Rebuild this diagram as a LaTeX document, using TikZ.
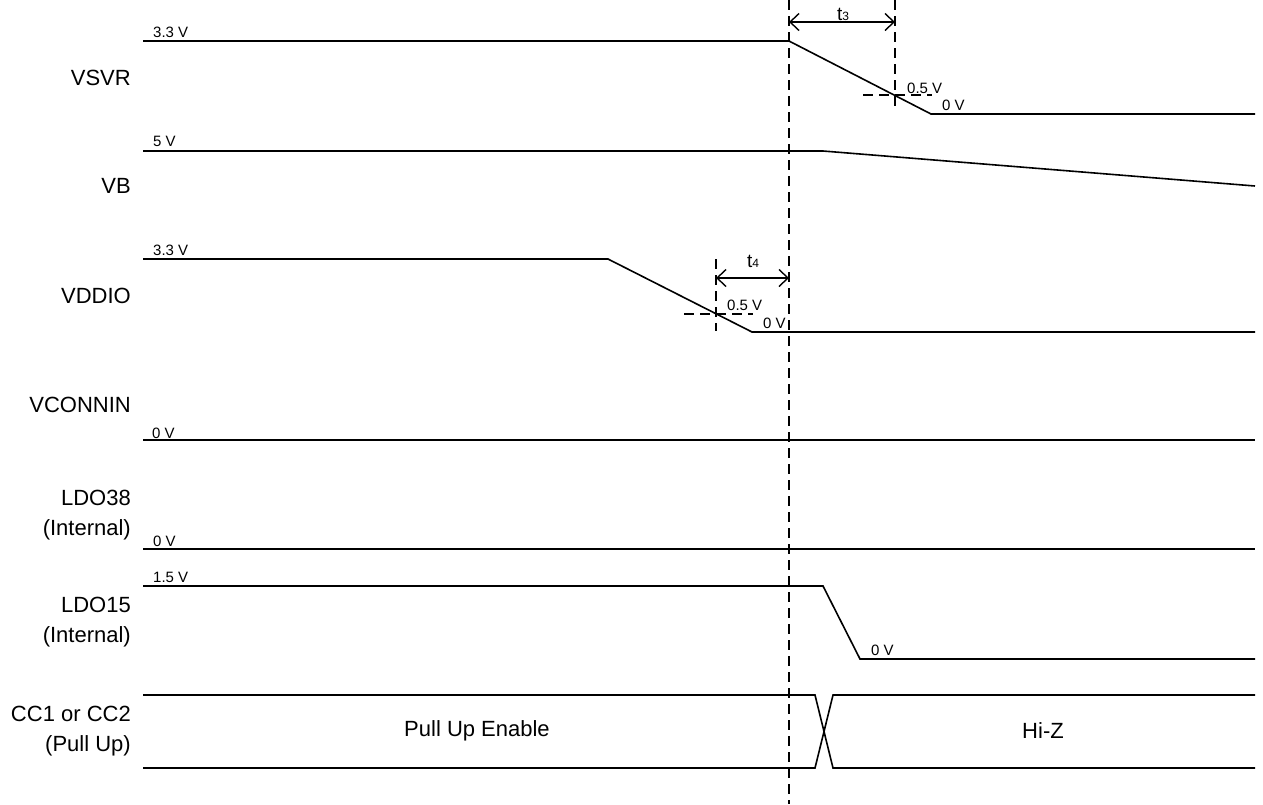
\documentclass[tikz,border=0pt]{standalone}
\usepackage{fontspec}
\setmainfont{Liberation Sans}
\usetikzlibrary{arrows.meta}
\usetikzlibrary{positioning}

\begin{document}
\begin{tikzpicture}[x=1pt,y=-1pt,
    sig/.style={line width=1.6pt,line join=miter},
    guide/.style={line width=1.4pt,dash pattern=on 10pt off 6pt},
    span/.style={line width=1.4pt,{Straight Barb[length=9pt,width=17pt]}-{Straight Barb[length=9pt,width=17pt]}},
    lbl/.style={anchor=east,align=right,inner sep=0pt,font=\fontsize{22}{30}\selectfont},
    volt/.style={anchor=base west,inner sep=0pt,font=\fontsize{15}{15}\selectfont},
    tname/.style={anchor=base,inner sep=0pt,font=\fontsize{19}{19}\selectfont}]
  \useasboundingbox (0,0) rectangle (1263,804);

  % signal names
  \node[lbl] (vsvr) at (131,78) {VSVR};
  \node[lbl] (vb) at (131,186) {VB};
  \node[lbl] (vddio) at (131,296) {VDDIO};
  \node[lbl] (vconn) at (131,405) {VCONNIN};
  \node[lbl] (ldo38) at (131,515) {LDO38\\(Internal)};
  \node[lbl] (ldo15) at (131,622) {LDO15\\(Internal)};
  \node[lbl] (cc) at (131,731) {CC1 or CC2\\(Pull Up)};

  % VSVR
  \coordinate (vs0) at (143,41);
  \coordinate (vs1) at (789,41);
  \coordinate (vs2) at (931,114);
  \coordinate (vs3) at (1255,114);
  \draw[sig] (vs0) -- (vs1) -- (vs2) -- (vs3);
  \node[volt] (vshi) at (153,37) {3.3 V};
  \node[volt] (vsmid) at (907,93) {0.5 V};
  \node[volt] (vslo) at (942,110) {0 V};

  % VB
  \coordinate (vb0) at (143,151);
  \coordinate (vb1) at (823,151);
  \coordinate (vb2) at (1255,186);
  \draw[sig] (vb0) -- (vb1) -- (vb2);
  \node[volt] (vbhi) at (153,146) {5 V};

  % VDDIO
  \coordinate (vd0) at (143,259);
  \coordinate (vd1) at (608,259);
  \coordinate (vd2) at (752,332);
  \coordinate (vd3) at (1255,332);
  \draw[sig] (vd0) -- (vd1) -- (vd2) -- (vd3);
  \node[volt] (vdhi) at (153,255) {3.3 V};
  \node[volt] (vdmid) at (727,310) {0.5 V};
  \node[volt] (vdlo) at (763,328) {0 V};

  % VCONNIN, LDO38
  \coordinate (vc0) at (143,440);
  \coordinate (vc1) at (1255,440);
  \draw[sig] (vc0) -- (vc1);
  \node[volt] (vclo) at (152,438) {0 V};
  \coordinate (l38a) at (143,549);
  \coordinate (l38b) at (1255,549);
  \draw[sig] (l38a) -- (l38b);
  \node[volt] (l38lo) at (153,546) {0 V};

  % LDO15
  \coordinate (l15a) at (143,586);
  \coordinate (l15b) at (823,586);
  \coordinate (l15c) at (860,659);
  \coordinate (l15d) at (1255,659);
  \draw[sig] (l15a) -- (l15b) -- (l15c) -- (l15d);
  \node[volt] (l15hi) at (153,582) {1.5 V};
  \node[volt] (l15lo) at (871,655) {0 V};

  % CC1 / CC2
  \coordinate (cct0) at (143,695);
  \coordinate (cct1) at (815,695);
  \coordinate (cct2) at (833,695);
  \coordinate (cct3) at (1255,695);
  \coordinate (ccb0) at (143,768);
  \coordinate (ccb1) at (815,768);
  \coordinate (ccb2) at (833,768);
  \coordinate (ccb3) at (1255,768);
  \draw[sig] (cct0) -- (cct1) -- (ccb2) -- (ccb3);
  \draw[sig] (ccb0) -- (ccb1) -- (cct2) -- (cct3);
  \node[font=\fontsize{22}{26}\selectfont] (pull) at (477,731) {Pull Up Enable};
  \node[font=\fontsize{22}{26}\selectfont] (hiz) at (1043,731) {Hi-Z};

  % timing guides
  \coordinate (gtop) at (789,0);
  \coordinate (gbot) at (789,804);
  \draw[guide] (gtop) -- (gbot);
  \coordinate (g3top) at (895,0);
  \coordinate (g3bot) at (895,108);
  \draw[guide] (g3top) -- (g3bot);
  \coordinate (h3a) at (863,95);
  \coordinate (h3b) at (932,95);
  \draw[guide] (h3a) -- (h3b);
  \coordinate (g4top) at (716,259);
  \coordinate (g4bot) at (716,331);
  \draw[guide] (g4top) -- (g4bot);
  \coordinate (h4a) at (684,314);
  \coordinate (h4b) at (753,314);
  \draw[guide] (h4a) -- (h4b);

  % t3, t4
  \coordinate (t3a) at (789,22);
  \coordinate (t3b) at (895,22);
  \draw[span] (t3a) -- (t3b);
  \node[tname] (t3) at (843,20) {t{\fontsize{12}{12}\selectfont 3}};
  \coordinate (t4a) at (716,278);
  \coordinate (t4b) at (789,278);
  \draw[span] (t4a) -- (t4b);
  \node[tname] (t4) at (753,267) {t{\fontsize{12}{12}\selectfont 4}};
\end{tikzpicture}
\end{document}
